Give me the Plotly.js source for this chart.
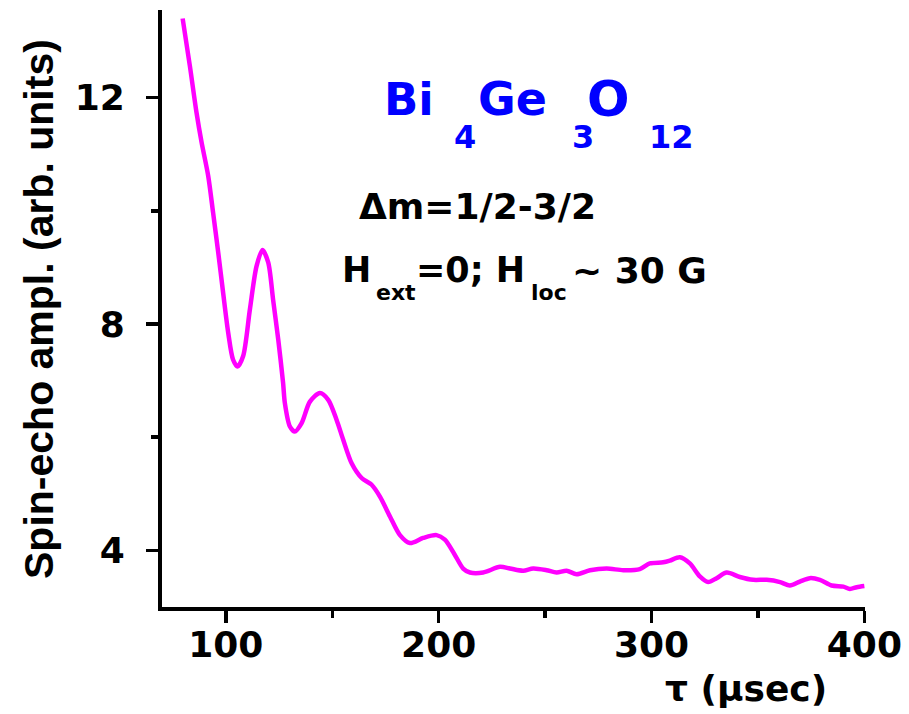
<!DOCTYPE html>
<html>
<head>
<meta charset="utf-8">
<script src="https://cdn.plot.ly/plotly-3.0.1.min.js"></script>
<style>html,body{margin:0;padding:0;background:#fff;}#chart{width:909px;height:714px;}</style>
</head>
<body>
<div id="chart"></div>
<script>
// Data
var tau = [79.7, 83.1, 86.2, 88.6, 91.7, 94.0, 96.4, 98.7, 101.1, 103.4, 105.5, 108.1, 111.3, 114.4, 117.2, 119.9, 122.2, 124.6, 126.9, 127.7, 130.1, 132.4, 135.6, 139.5, 144.2, 148.1, 152.0, 155.1, 159.1, 163.8, 168.5, 172.4, 177.1, 181.8, 186.5, 192.7, 199.0, 202.9, 207.6, 211.5, 214.7, 220.9, 228.8, 233.5, 239.7, 244.4, 250.7, 255.4, 260.1, 264.8, 271.1, 278.9, 286.7, 294.5, 299.2, 305.5, 308.6, 313.3, 318.0, 322.7, 326.6, 330.6, 335.3, 341.5, 347.8, 354.1, 360.4, 365.0, 369.7, 374.4, 379.1, 384.6, 390.1, 393.2, 396.4, 400.0];
var amp = [13.40, 12.56, 11.74, 11.21, 10.62, 9.97, 9.27, 8.56, 7.85, 7.37, 7.25, 7.43, 8.26, 9.02, 9.31, 9.09, 8.43, 7.73, 6.96, 6.61, 6.19, 6.10, 6.25, 6.63, 6.78, 6.66, 6.31, 5.96, 5.54, 5.28, 5.16, 4.95, 4.60, 4.27, 4.13, 4.22, 4.27, 4.19, 3.92, 3.68, 3.61, 3.61, 3.71, 3.68, 3.64, 3.68, 3.65, 3.61, 3.64, 3.58, 3.65, 3.68, 3.65, 3.67, 3.77, 3.79, 3.82, 3.88, 3.77, 3.54, 3.44, 3.51, 3.61, 3.53, 3.48, 3.48, 3.44, 3.38, 3.45, 3.51, 3.48, 3.38, 3.36, 3.32, 3.35, 3.37];

var xTitle = "τ (μsec)";
var yTitle = "Spin-echo ampl. (arb. units)";
var transitionLabel = "Δm=1/2-3/2";

// layout helpers: pixel -> paper coordinates
var L = 162, R = 865, T = 10, B = 607;
function px(x) { return (x - L) / (R - L); }
function py(y) { return (B - y) / (B - T); }

var F = "DejaVu Sans";
function ann(text, x, y, size, color, xanchor) {
  return {text: text, xref: "paper", yref: "paper", x: px(x), y: py(y),
    xanchor: xanchor || "left", yanchor: "middle", showarrow: false,
    font: {family: F, size: size, color: color || "#000", weight: "bold"}};
}

var annotations = [
  ann("Bi", 382, 99, 45, "#0000ff"),
  ann("4", 452, 137, 32, "#0000ff"),
  ann("Ge", 476, 99, 46, "#0000ff"),
  ann("3", 570, 137, 32, "#0000ff"),
  ann("O", 585, 99, 50, "#0000ff"),
  ann("12", 647, 137, 32, "#0000ff"),
  ann(transitionLabel, 477, 207, 36, "#000", "center"),
  ann("H", 340, 270, 35),
  ann("ext", 374, 292, 22),
  ann("=0; H", 414, 270, 35),
  ann("loc", 529, 292, 22),
  ann("~ 30 G", 570, 270, 36),
  ann(xTitle, 746, 688, 36, "#000", "center"),
  {text: yTitle, xref: "paper", yref: "paper", x: px(39), y: py(309), xanchor: "center", yanchor: "middle",
   textangle: -90, showarrow: false,
   font: {family: "Liberation Sans, Arial, sans-serif", size: 41, color: "#000", weight: "bold"}}
];

var trace = {x: tau, y: amp, type: "scatter", mode: "lines",
  line: {color: "#ff00ff", width: 4.5, shape: "spline", smoothing: 0.8}, hoverinfo: "none"};

var layout = {
  width: 909, height: 714,
  margin: {l: L, r: 909 - R, t: T, b: 714 - B, pad: 0},
  paper_bgcolor: "#fff", plot_bgcolor: "#fff",
  showlegend: false,
  xaxis: {range: [70, 400.3], tick0: 0, dtick: 100, showgrid: false, zeroline: false,
    showline: true, linecolor: "#000", linewidth: 4,
    ticks: "outside", ticklen: 12, tickwidth: 3.5, tickcolor: "#000",
    ticklabelstandoff: -9,
    tickfont: {family: F, size: 36, color: "#000", weight: "bold"},
    minor: {dtick: 50, ticks: "outside", ticklen: 7, tickwidth: 3.5, tickcolor: "#000", showgrid: false}},
  yaxis: {range: [3, 13.55], tick0: 0, dtick: 4, showgrid: false, zeroline: false,
    showline: true, linecolor: "#000", linewidth: 4,
    ticks: "outside", ticklen: 12, tickwidth: 3.5, tickcolor: "#000",
    ticklabelstandoff: 14,
    tickfont: {family: F, size: 36, color: "#000", weight: "bold"},
    minor: {dtick: 2, ticks: "outside", ticklen: 7, tickwidth: 3.5, tickcolor: "#000", showgrid: false}},
  annotations: annotations
};

Plotly.newPlot("chart", [trace], layout, {staticPlot: true, displayModeBar: false});
</script>
</body>
</html>
